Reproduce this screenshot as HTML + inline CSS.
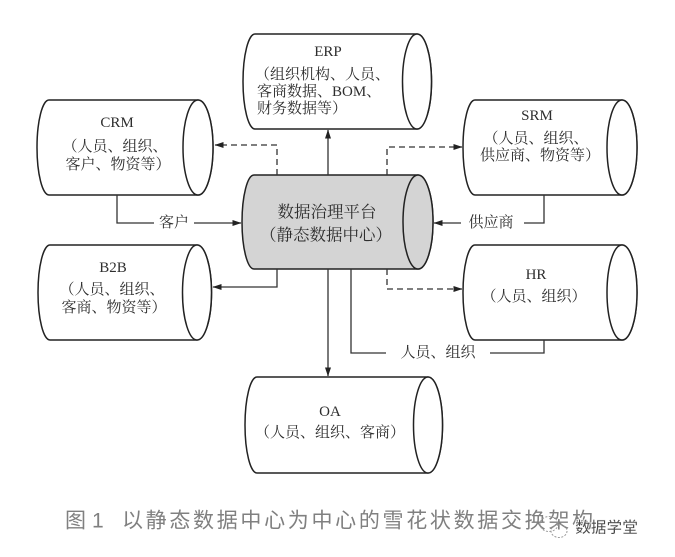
<!DOCTYPE html>
<html>
<head>
<meta charset="utf-8">
<style>
  html,body{margin:0;padding:0;background:#fff;}
  svg{display:block;}
  .ser{font-family:"Liberation Serif","Noto Serif CJK SC","Noto Sans CJK SC",serif;fill:#2e2e2e;}
  .cap{font-family:"Liberation Sans","Noto Sans CJK SC",sans-serif;fill:#808080;}
</style>
</head>
<body>
<svg width="675" height="557" viewBox="0 0 675 557" xmlns="http://www.w3.org/2000/svg">
  <defs>
    <marker id="ah" markerWidth="9" markerHeight="7" refX="8.5" refY="3.5" orient="auto" markerUnits="userSpaceOnUse">
      <path d="M0,0.5 L9,3.5 L0,6.5 Z" fill="#222"/>
    </marker>
  </defs>
  <rect width="675" height="557" fill="#fff"/>

  <!-- cylinders -->
  <g stroke="#222" stroke-width="1.5" fill="#fff">
    <!-- ERP -->
    <path d="M255,34 L417,34 A14.5,47.5 0 0 1 417,129 L255,129 A12,47.5 0 0 1 255,34 Z"/>
    <ellipse cx="417" cy="81.5" rx="14.5" ry="47.5"/>
    <!-- CRM -->
    <path d="M49,100 L198,100 A15,47.5 0 0 1 198,195 L49,195 A12,47.5 0 0 1 49,100 Z"/>
    <ellipse cx="198" cy="147.5" rx="15" ry="47.5"/>
    <!-- B2B -->
    <path d="M50,245 L197,245 A14.5,47.5 0 0 1 197,340 L50,340 A12,47.5 0 0 1 50,245 Z"/>
    <ellipse cx="197" cy="292.5" rx="14.5" ry="47.5"/>
    <!-- SRM -->
    <path d="M475,100 L622,100 A15,47.5 0 0 1 622,195 L475,195 A12,47.5 0 0 1 475,100 Z"/>
    <ellipse cx="622" cy="147.5" rx="15" ry="47.5"/>
    <!-- HR -->
    <path d="M475,245 L622,245 A15,47.5 0 0 1 622,340 L475,340 A12,47.5 0 0 1 475,245 Z"/>
    <ellipse cx="622" cy="292.5" rx="15" ry="47.5"/>
    <!-- OA -->
    <path d="M257,377 L428,377 A14.5,48 0 0 1 428,473 L257,473 A12,48 0 0 1 257,377 Z"/>
    <ellipse cx="428" cy="425" rx="14.5" ry="48"/>
    <!-- Center -->
    <path d="M254,175 L418,175 A15,47 0 0 1 418,269 L254,269 A12,47 0 0 1 254,175 Z" fill="#d4d4d4"/>
    <ellipse cx="418" cy="222" rx="15" ry="47" fill="#d4d4d4"/>
  </g>

  <!-- connectors -->
  <g stroke="#333" stroke-width="1.3" fill="none">
    <path d="M328,175 L328,130" marker-end="url(#ah)"/>
    <path d="M328,269 L328,376" marker-end="url(#ah)"/>
    <path d="M117,195 L117,223 L154,223"/>
    <path d="M194,223 L241,223" marker-end="url(#ah)"/>
    <path d="M277,269 L277,287 L213,287" marker-end="url(#ah)"/>
    <path d="M544,195 L544,223 L524,223"/>
    <path d="M461,223 L434,223" marker-end="url(#ah)"/>
    <path d="M544,340 L544,353 L490,353"/>
    <path d="M386,353 L351,353 L351,269"/>
  </g>
  <g stroke="#333" stroke-width="1.3" fill="none" stroke-dasharray="6,4">
    <path d="M277,175 L277,145 L215,145" marker-end="url(#ah)"/>
    <path d="M387,175 L387,147 L462,147" marker-end="url(#ah)"/>
    <path d="M387,269 L387,289 L462,289" marker-end="url(#ah)"/>
  </g>

  <!-- connector labels -->
  <g class="ser" font-size="15" dominant-baseline="central">
    <text x="174" y="223" text-anchor="middle">客户</text>
    <text x="491" y="223" text-anchor="middle">供应商</text>
    <text x="438" y="353" text-anchor="middle">人员、组织</text>
  </g>

  <!-- node text -->
  <g class="ser" font-size="15" dominant-baseline="central">
    <text x="328" y="52" text-anchor="middle">ERP</text>
    <text x="255" y="75">（组织机构、人员、</text>
    <text x="257" y="92">客商数据、BOM、</text>
    <text x="257" y="109">财务数据等）</text>

    <text x="117" y="123" text-anchor="middle">CRM</text>
    <text x="115" y="147" text-anchor="middle">（人员、组织、</text>
    <text x="118" y="165" text-anchor="middle">客户、物资等）</text>

    <text x="113" y="268" text-anchor="middle">B2B</text>
    <text x="112" y="290" text-anchor="middle">（人员、组织、</text>
    <text x="114" y="308" text-anchor="middle">客商、物资等）</text>

    <text x="537" y="116" text-anchor="middle">SRM</text>
    <text x="536" y="139" text-anchor="middle">（人员、组织、</text>
    <text x="540" y="156" text-anchor="middle">供应商、物资等）</text>

    <text x="536" y="275" text-anchor="middle">HR</text>
    <text x="534" y="297" text-anchor="middle">（人员、组织）</text>

    <text x="330" y="412" text-anchor="middle">OA</text>
    <text x="330" y="433" text-anchor="middle">（人员、组织、客商）</text>
  </g>
  <g class="ser" font-size="16.5" dominant-baseline="central">
    <text x="327" y="212" text-anchor="middle">数据治理平台</text>
    <text x="326" y="235" text-anchor="middle">（静态数据中心）</text>
  </g>

  <!-- caption -->
  <g class="cap" font-size="21" dominant-baseline="central">
    <text x="65" y="521">图</text>
    <text x="92" y="521">1</text>
    <text x="122" y="521" textLength="471" lengthAdjust="spacing">以静态数据中心为中心的雪花状数据交换架构</text>
  </g>

  <!-- watermark -->
  <g fill="none" stroke="#999" stroke-width="1" stroke-dasharray="2,1.5">
    <ellipse cx="549" cy="524" rx="9" ry="7.5"/>
    <ellipse cx="559" cy="531" rx="8" ry="6.5"/>
  </g>
  <text x="575" y="528" font-size="15.5" font-family="'Liberation Sans','Noto Sans CJK SC',sans-serif" fill="#4a4a4a" stroke="#fff" stroke-width="0.6" font-weight="bold" dominant-baseline="central" textLength="63" lengthAdjust="spacingAndGlyphs">数据学堂</text>
</svg>
</body>
</html>
